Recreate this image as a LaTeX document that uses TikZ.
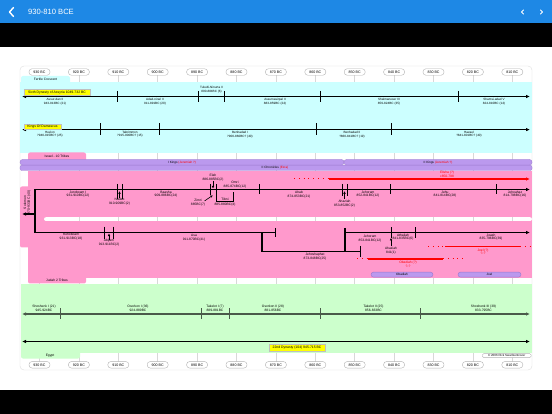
\documentclass[tikz,border=0pt]{standalone}
\usepackage{fontspec}
\setmainfont{Liberation Sans}
\usetikzlibrary{arrows.meta}
\definecolor{topblue}{HTML}{1E88E5}
\definecolor{cyanbg}{HTML}{CCFFFF}
\definecolor{pinkbg}{HTML}{FF99CC}
\definecolor{greenbg}{HTML}{CCFFCC}
\definecolor{purp}{HTML}{BB99EE}
\definecolor{purpline}{HTML}{9977CC}
\definecolor{gridc}{HTML}{D8D8D8}
\definecolor{egline}{HTML}{4A5A4A}
\definecolor{ylw}{HTML}{FFFF00}
\tikzset{
  lbl/.style={font=\fontsize{3.3}{3.8}\selectfont, align=center, inner sep=0pt},
  albl/.style={font=\fontsize{3.1}{3.8}\selectfont, align=center, inner sep=0pt},
  rlbl/.style={lbl, text=red},
  yrbox/.style={draw=gray!60, fill=white, rounded corners=3pt, minimum width=21pt, minimum height=6.5pt, inner sep=0pt, font=\fontsize{3.6}{4}\selectfont},
  tl/.style={line width=1.2pt},
  tk/.style={line width=1pt},
  arr/.style={-{Latex[length=4pt,width=3.5pt]}},
  arrb/.style={{Latex[length=4pt,width=3.5pt]}-{Latex[length=4pt,width=3.5pt]}},
  sarr/.style={line width=0.7pt, -{Latex[length=2.6pt,width=2.6pt]}},
  tabtxt/.style={font=\fontsize{3.3}{4}\selectfont, inner sep=0pt},
  ybox/.style={fill=ylw, draw=gray!50, line width=0.3pt, font=\fontsize{3.4}{4}\selectfont, inner sep=0pt},
  pill/.style={fill=purp, draw=purpline, line width=0.4pt, rounded corners=2.5pt, minimum height=5pt, inner sep=0pt, font=\fontsize{3.1}{4}\selectfont},
  rdot/.style={red, line width=1pt, dash pattern=on 0.8pt off 4pt},
  rsol/.style={red, line width=1.1pt},
  bandtxt/.style={font=\fontsize{3.1}{4}\selectfont, inner sep=0pt},
}
\begin{document}
\begin{tikzpicture}[x=1pt,y=-1pt]
\useasboundingbox (0,0) rectangle (552,414);
\fill[white] (0,0) rectangle (552,414);
% top bars
\fill[topblue] (0,0) rectangle (552,23.5);
\fill[black] (0,23.5) rectangle (552,47.5);
\fill[black] (0,390) rectangle (552,414);
\node[anchor=west, text=white, font=\fontsize{7.6}{8}\selectfont, inner sep=0pt] (title) at (28,12) {930-810 BCE};
\draw[white, line width=1.4pt, line cap=round, line join=round] (13.5,7.5) -- (9.5,12) -- (13.5,16.5);
\draw[white, line width=0.9pt, line cap=round, line join=round] (523.5,10) -- (521.5,12) -- (523.5,14);
\draw[white, line width=0.9pt, line cap=round, line join=round] (540.5,10) -- (542.5,12) -- (540.5,14);
% panel
\draw[gray!25, fill=white, rounded corners=4pt] (20,66) rectangle (532,370);
% grid
\foreach \x in {39.5,78.9,118.3,157.7,197.1,236.5,275.9,315.3,354.7,394.1,433.5,472.9,512.3}
  \draw[gridc, line width=0.5pt] (\x,72) -- (\x,364);
% cyan region
\fill[cyanbg] (20,82) rectangle (532,153);
\fill[cyanbg] (21,83) [rounded corners=2pt] -- (21,76) -- (70,76) [sharp corners] -- (70,83) -- cycle;
\node[tabtxt] (tabfc) at (45.5,79.5) {Fertile Crescent};
% Israel tab and purple bands
\fill[pinkbg] (28,161) [rounded corners=2pt] -- (28,152.5) -- (86,152.5) [sharp corners] -- (86,161) -- cycle;
\node[tabtxt] (tabis) at (57,156) {Israel - 10 Tribes};
\filldraw[fill=purp, draw=purpline, line width=0.3pt, rounded corners=2.5pt] (20,159.5) rectangle (344,165);
\filldraw[fill=purp, draw=purpline, line width=0.3pt, rounded corners=2.5pt] (344,159.5) rectangle (532,165);
\filldraw[fill=purp, draw=purpline, line width=0.3pt, rounded corners=2pt] (20,165.2) rectangle (532,170.5);
\node[bandtxt] (ik1) at (182,162.3) {I Kings \textcolor{red}{(Jeremiah ?)}};
\node[bandtxt] (ik2) at (438,162.3) {II Kings \textcolor{red}{(Jeremiah ?)}};
\node[bandtxt] (ch2) at (275,167.9) {II Chronicles \textcolor{red}{(Ezra)}};
% pink region
\fill[pinkbg] (28,170.7) rectangle (532,278.5);
\fill[pinkbg, rounded corners=2pt] (20,186.5) rectangle (32,247.5);
\fill[pinkbg] (28,277) [rounded corners=2pt] -- (28,283.5) -- (86,283.5) [sharp corners] -- (86,277) -- cycle;
\node[tabtxt] (tabju) at (57,280.8) {Judah 2 Tribes};
\node[lbl, rotate=90] (solomon) at (27.2,202.5) {Solomon\\970-931BC (40)};
% white band between Israel and Judah
\fill[white, rounded corners=2pt] (44,217.2) rectangle (532,221);
\foreach \x in {78.9,118.3,157.7,197.1,236.5,275.9,315.3,354.7,394.1,433.5,472.9,512.3}
  \draw[gridc, line width=0.5pt] (\x,217.2) -- (\x,221);
% green region
\fill[greenbg] (21,284) rectangle (532,352.5);
\fill[greenbg] (21,351) [rounded corners=2pt] -- (21,358.5) -- (80,358.5) [sharp corners] -- (80,351) -- cycle;
\node[tabtxt] (tabeg) at (50,355.8) {Egypt};
% year labels
\foreach \x/\y in {39.5/930,78.9/920,118.3/910,157.7/900,197.1/890,236.5/880,275.9/870,315.3/860,354.7/850,394.1/840,433.5/830,472.9/820,512.3/810}{
  \node[yrbox] (t\y) at (\x,72) {\y\ BC};
  \node[yrbox] (b\y) at (\x,364.8) {\y\ BC};
}
% ===== Assyria =====
\coordinate (asL) at (22,96.5);
\coordinate (asR) at (530,96.5);
\draw[tl, arrb] (asL) -- (asR);
\foreach \x in {117,198,224,320,458} \draw[tk] (\x,91) -- (\x,102);
\node[ybox, minimum width=66pt, minimum height=6pt] (assy) at (57,92.5) {Sixth Dynasty of Assyria 1049-732 BC};
\node[albl] (a1) at (55,101.6) {Assur-dan II\\943-913BC (21)};
\node[albl] (a2) at (155,101.6) {Adad-nirari II\\911-891BC (20)};
\node[albl] (a3) at (211.5,90) {Tukulti-Ninurta II\\890-884BC (6)};
\node[albl] (a4) at (275,101.6) {Assurnasirpal II\\883-859BC (24)};
\node[albl] (a5) at (389,101.6) {Shalmaneser III\\859-824BC (35)};
\node[albl] (a6) at (494,101.6) {Shamsi-adad V\\824-810BC (14)};
% ===== Damascus =====
\coordinate (daL) at (22,129.6);
\coordinate (daR) at (530,129.6);
\draw[tl, arrb] (daL) -- (daR);
\foreach \x in {100,159,316,391} \draw[tk] (\x,123.5) -- (\x,135.5);
\node[ybox, minimum width=37pt, minimum height=5pt] (dam) at (42.5,126.2) {Kings Of Damascus};
\node[albl] (d1) at (50,134.2) {Hezion\\?940-915BC? (25)};
\node[albl] (d2) at (130,134.2) {Tabrimmon\\?915-900BC? (15)};
\node[albl] (d3) at (240,134.6) {Benhadad I\\?900-860BC? (40)};
\node[albl] (d4) at (352,134.6) {Benhadad II\\?860-841BC? (19)};
\node[albl] (d5) at (469,134.2) {Hazael\\?841-801BC? (40)};
% ===== Israel / Judah main lines =====
\coordinate (jdA) at (275,232.5);
\coordinate (jdB) at (35,232.5);
\coordinate (isA) at (35,189.5);
\coordinate (isE) at (530,189.5);
\draw[tl, arr, line join=miter] (jdA) -- (jdB) -- (isA) -- (isE);
\coordinate (solA) at (35,214);
\coordinate (solB) at (22,214);
\draw[tl, arr] (solA) -- (solB);
% Israel ticks
\draw[tk] (117,184) -- (117,199.3);
\draw[tk] (122,184) -- (122,199.3);
\draw[sarr] (119.5,198.5) -- (119.5,191.2);
\draw[tk] (210,184) -- (210,195);
\draw[tk] (216,184) -- (216,201.5) -- (233.7,201.5) -- (233.7,192);
\draw[sarr] (213,181.3) -- (213,188.5);
\draw[line width=0.6pt, -{Latex[length=2.4pt,width=2.4pt]}] (204.5,201) -- (212.8,195.3);
\draw[tk] (259.7,184.5) -- (259.7,194.5);
\draw[tk] (342,184) -- (342,196.5);
\draw[tk] (347,184) -- (347,196.5);
\draw[sarr] (344.5,199) -- (344.5,191.2);
\draw[tk] (390,184.5) -- (390,194.5);
\draw[tk] (496,184.5) -- (496,194.5);
% Israel labels
\node[lbl] (i1) at (78,194.2) {Jeroboam I\\931-910BC(22)};
\node[lbl] (i2) at (119.5,202) {Nadab\\910-909BC(2)};
\node[lbl] (i3) at (166,194.2) {Baasha\\909-886BC(24)};
\node[lbl] (i4) at (213,178) {Elah\\886-885BC(2)};
\node[lbl] (i5) at (198,202.6) {Zimri\\885BC(7)};
\node[lbl] (i6a) at (225,199.4) {Tibni};
\node[lbl] (i6b) at (225,204.5) {885-880BC(4)};
\node[lbl] (i7) at (235,185) {Omri\\885-874BC(12)};
\node[lbl] (i8) at (299,194.5) {Ahab\\874-853BC(21)};
\node[lbl] (i9) at (344.5,203.6) {Ahaziah\\853-852BC(2)};
\node[lbl] (i10) at (368,194.2) {Jehoram\\852-841BC(12)};
\node[lbl] (i11) at (445,194.2) {Jehu\\841-814BC(28)};
\node[lbl] (i12) at (515,194.2) {Jehoahaz\\814-798BC(16)};
% Elisha
\coordinate (elA) at (294,179);
\coordinate (elB) at (329,179);
\coordinate (elC) at (530,179);
\draw[rdot] (elA) -- (elB);
\draw[rsol, arr] (elB) -- (elC);
\node[rlbl] (eli) at (447,174.4) {Elisha (?)\\c850-798};
% Judah
\draw[tk] (275,228) -- (275,237);
\draw[tk] (104.7,226.7) -- (104.7,239);
\draw[tk] (113.7,226.7) -- (113.7,239);
\draw[sarr] (109,240.5) -- (109,233.5);
\coordinate (jsA) at (262,232.5);
\coordinate (jsB) at (262,251.5);
\coordinate (jsC) at (360,251.5);
\draw[tl] (jsA) -- (jsB) -- (jsC);
\draw[tk] (360,246) -- (360,257);
\draw[tl] (345,228) -- (345,251.5);
\coordinate (jrA) at (345,232.5);
\coordinate (jrB) at (530,232.5);
\draw[tl, arr] (jrA) -- (jrB);
\draw[tk] (391,227.5) -- (391,238);
\draw[tk] (415,227.5) -- (415,238);
\draw[sarr] (391,246.3) -- (391,237.8);
\node[lbl] (j1) at (71,237) {Rehoboam\\931-913BC(18)};
\node[lbl] (j2) at (109,243) {Abijam\\913-911BC(2)};
\node[lbl] (j3) at (194,237.5) {Asa\\911-870BC(41)};
\node[lbl] (j4) at (315,256.3) {Jehoshaphat\\873-848BC(25)};
\node[lbl] (j5) at (370,238.4) {Jehoram\\853-841BC(12)};
\node[lbl] (j6) at (403,237.1) {Athaliah\\841-835BC(6)};
\node[lbl] (j7) at (391,250.5) {Ahaziah\\841(1)};
\node[lbl] (j8) at (491,237.1) {Joash\\835-796BC(39)};
% Joel / Obadiah red
\draw[rdot] (428,246.5) -- (445,246.5);
\draw[rsol] (445,246.5) -- (520,246.5);
\draw[rdot] (520,246.5) -- (531,246.5);
\node[rlbl] (joel) at (483,251.8) {Joel (?)\\?-?};
\draw[rdot] (357,259) -- (368,259);
\draw[rsol] (368,259) -- (443,259);
\draw[rdot] (443,259) -- (463,259);
\node[rlbl] (obad) at (408,264.2) {Obadiah (?)\\?-?};
\node[pill, minimum width=62pt] (p1) at (402,274.6) {Obadiah};
\node[pill, minimum width=63pt] (p2) at (489.5,274.6) {Joel};
% ===== Egypt =====
\coordinate (egL) at (22,314);
\coordinate (egR) at (530,314);
\draw[egline, line width=1.3pt, arrb] (egL) -- (egR);
\foreach \x in {60.3,201.3,229.7,320.7,420.3} \draw[egline, line width=1.1pt] (\x,308.5) -- (\x,319.5);
\node[lbl] (e1) at (44,308.4) {Shoshenk I (21)\\945-924BC};
\node[lbl] (e2) at (138,308.6) {Osorkon I (36)\\924-889BC};
\node[lbl] (e3) at (215,308.2) {Takelot I (7)\\889-881BC};
\node[lbl] (e4) at (273,308.3) {Osorkon II (28)\\881-856BC};
\node[lbl] (e5) at (373.5,308.3) {Takelot II (25)\\856-833BC};
\node[lbl] (e6) at (483.5,308.3) {Shoshenk III (39)\\833-795BC};
\coordinate (e2L) at (22,341.5);
\coordinate (e2R) at (530,341.5);
\draw[tl, arrb] (e2L) -- (e2R);
\node[ybox, minimum width=56.6pt, minimum height=6.7pt] (dyn22) at (297,347.3) {22nd Dynasty (104) 945-715 BC};
\node[draw=gray!60, fill=white, rounded corners=1.5pt, inner sep=0.6pt, minimum width=49pt, minimum height=4pt, font=\fontsize{3}{3.5}\selectfont] (copy) at (506.7,355.6) {© 2006 Rick Swartzentrover};
\end{tikzpicture}
\end{document}
